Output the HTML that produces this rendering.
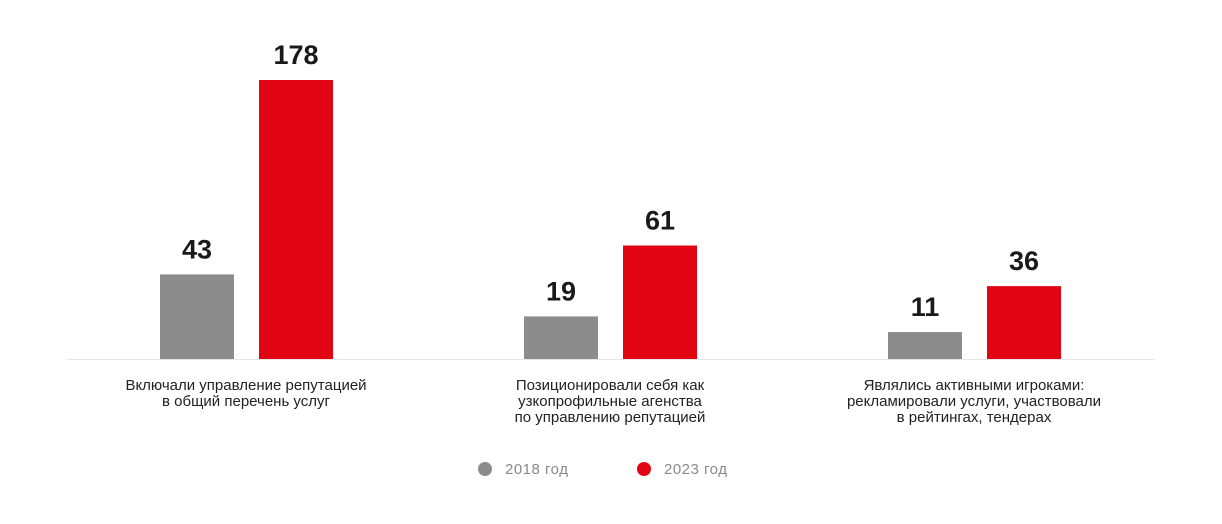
<!DOCTYPE html>
<html><head><meta charset="utf-8"><style>
body{margin:0;background:#fff;width:1222px;height:524px;overflow:hidden;font-family:"Liberation Sans",sans-serif;}
svg{display:block}
</style></head><body>
<svg id="chart" width="1222" height="524" xmlns="http://www.w3.org/2000/svg">
<line x1="67" x2="1155" y1="359.5" y2="359.5" stroke="#e6e6e6" stroke-width="1"/>
<g id="bars"></g>
<g id="cats" font-size="15" fill="#222" text-anchor="middle"></g>
<g font-size="15" fill="#8a8a8a">
<circle cx="485" cy="469" r="7" fill="#8c8c8c"/>
<text x="505" y="474" letter-spacing="0.5">2018 год</text>
<circle cx="644" cy="469" r="7" fill="#e10514"/>
<text x="664" y="474" letter-spacing="0.5">2023 год</text>
</g>
</svg>
<script>
const categories=[["Включали управление репутацией","в общий перечень услуг"],["Позиционировали себя как","узкопрофильные агенства","по управлению репутацией"],["Являлись активными игроками:","рекламировали услуги, участвовали","в рейтингах, тендерах"]];
const values2018=[43,19,11];
const values2023=[178,61,36];
const NS="http://www.w3.org/2000/svg";
const baseY=359, maxV=178, maxH=279, expo=0.84;
function yScale(v){return baseY-maxH*Math.pow(v/maxV,expo);}
function groupX(i){return 160+i*364;}
const bars=document.getElementById('bars'), cats=document.getElementById('cats');
function mk(t,a){const e=document.createElementNS(NS,t);for(const k in a)e.setAttribute(k,a[k]);return e;}
function bar(x,v,color,name){
  const y=yScale(v);
  const r=mk('rect',{x:x,y:y,width:74,height:baseY-y,fill:color});
  
  
  bars.appendChild(r);
  const t=mk('text',{x:x+37,y:y-16,'text-anchor':'middle','font-size':'27','font-weight':'bold',fill:'#1a1a1a'});
  
  
  t.textContent=v;bars.appendChild(t);
}
categories.forEach((c,i)=>{
  const x=groupX(i);
  bar(x,values2018[i],'#8c8c8c','bar-2018-group-'+(i+1));
  bar(x+99,values2023[i],'#e10514','bar-2023-group-'+(i+1));
  const t=mk('text',{x:x+86,y:390});
  
  
  c.forEach((l,j)=>{const s=mk('tspan',{x:x+86,dy:j?16:0});s.textContent=l;t.appendChild(s);});
  cats.appendChild(t);
});
</script>
</body></html>
